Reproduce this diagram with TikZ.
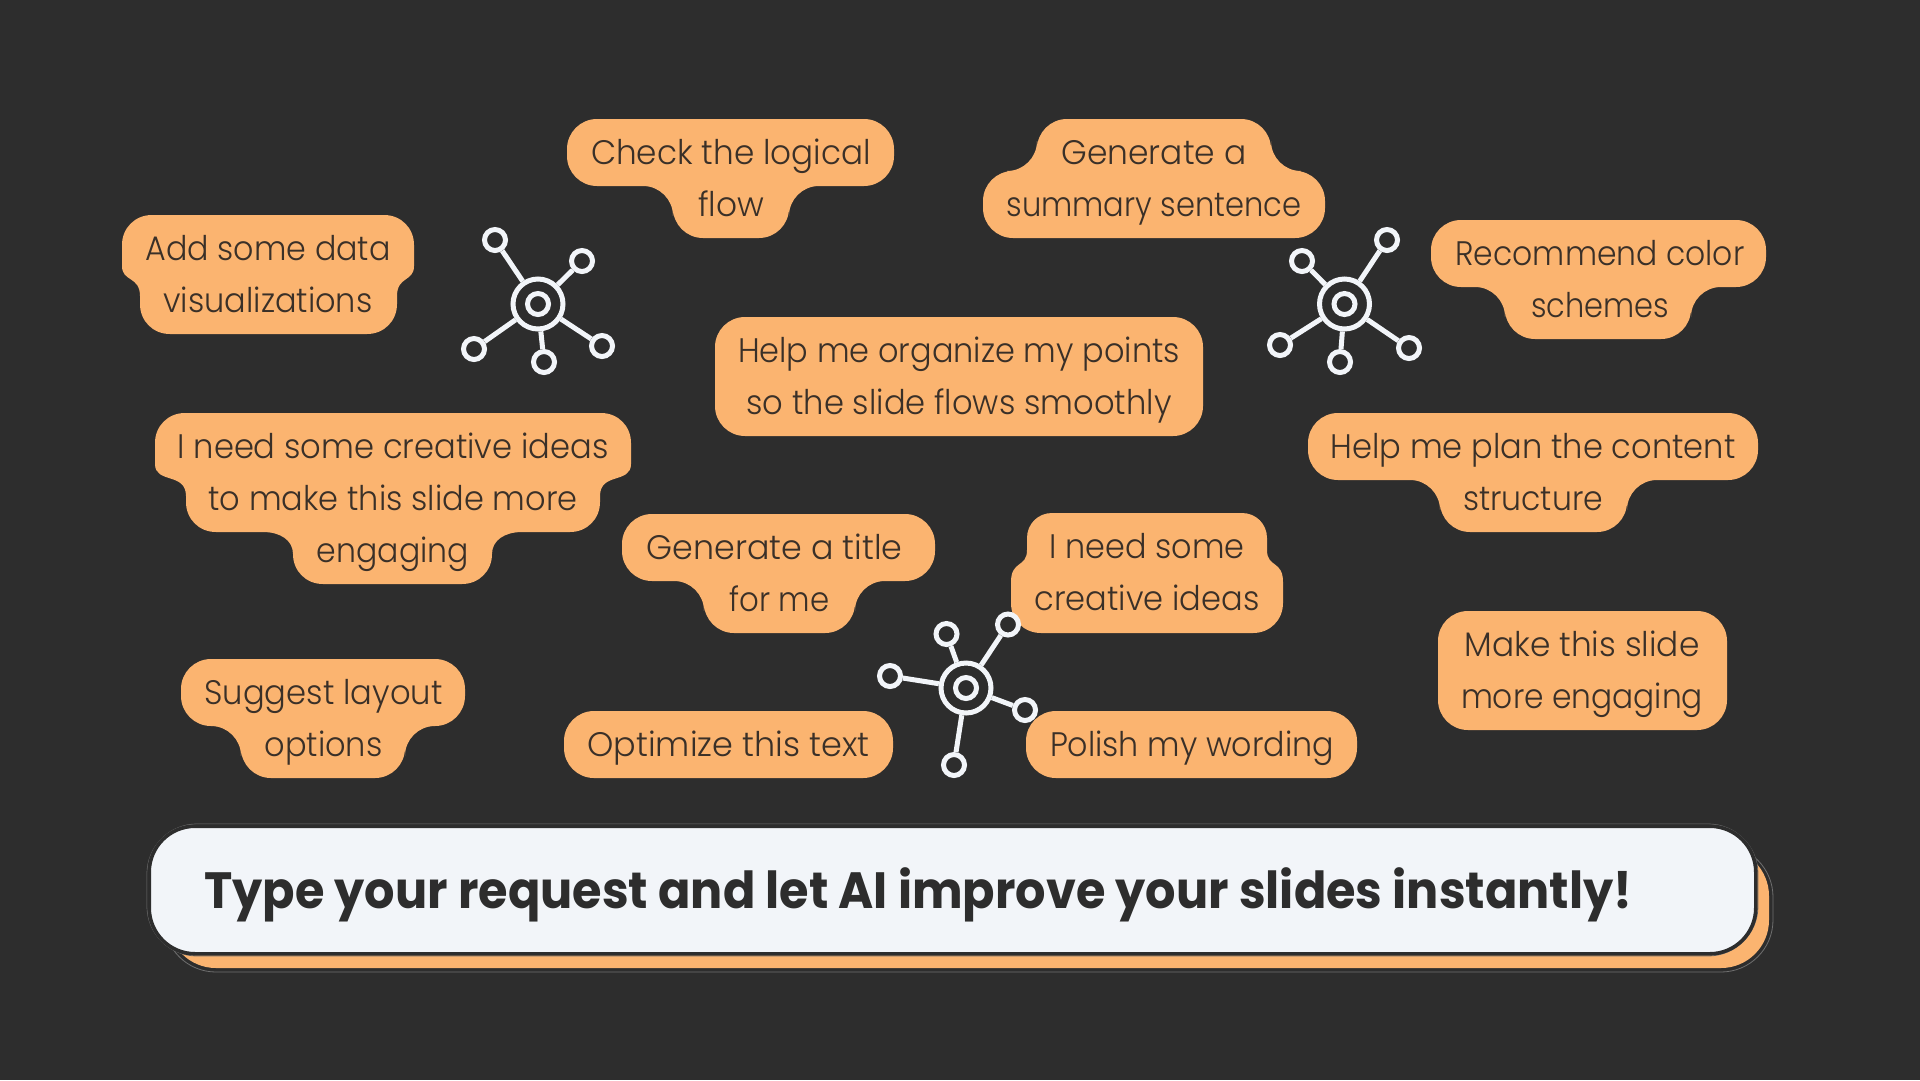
\documentclass[tikz,border=0pt]{standalone}
\usepackage{fontspec}
\usepackage{graphicx}
\setmainfont{Poppins}[UprightFont=* Light,BoldFont=* Bold]
\definecolor{bgc}{HTML}{2D2D2D}
\definecolor{org}{HTML}{FBB470}
\definecolor{ink}{HTML}{3A3028}
\definecolor{paper}{HTML}{F2F5F9}
\definecolor{iconc}{HTML}{F2F5F9}
\tikzset{
 blob/.style={fill=org,rounded corners=30pt},
 lbl/.style={text=ink,align=center,inner sep=0pt,font=\fontsize{34}{52}\selectfont},
 hubcore/.style={circle,draw=iconc,line width=5pt,fill=bgc,minimum size=50pt,inner sep=0pt},
 hubdot/.style={circle,draw=iconc,line width=5pt,fill=none,minimum size=21pt,inner sep=0pt},
 sat/.style={circle,draw=iconc,line width=5pt,fill=bgc,minimum size=21pt,inner sep=0pt},
 spoke/.style={draw=iconc,line width=5pt},
}
\newcommand{\hubicon}[7]{% name, centre, five satellites
 \node[hubcore] (#1c) at #2 {};
 \node[hubdot] (#1d) at #2 {};
 \node[sat] (#1a) at #3 {};
 \node[sat] (#1b) at #4 {};
 \node[sat] (#1e) at #5 {};
 \node[sat] (#1f) at #6 {};
 \node[sat] (#1g) at #7 {};
 \foreach \s in {a,b,e,f,g} \draw[spoke] (#1c) -- (#1\s);
}
\newcommand{\ltxt}[4]{\node[lbl] (#1) at (#2,#3-0.3) {#4};}
\newcommand{\fw}[2]{\strut\resizebox{#1pt}{\height}{#2}}
\begin{document}
\begin{tikzpicture}[x=1pt,y=-1pt]
\useasboundingbox (0,0) rectangle (1920,1080);
\fill[bgc] (0,0) rectangle (1920,1080);
% blobs
\fill[org] (152,215) -- (384,215) .. controls (401,215) and (414,228) .. (414,245) -- (414,266) .. controls (414,282) and (397,276) .. (397,296) -- (397,304) .. controls (397,321) and (384,334) .. (367,334) -- (170,334) .. controls (153,334) and (140,321) .. (140,304) -- (140,296) .. controls (140,276) and (122,282) .. (122,266) -- (122,245) .. controls (122,228) and (135,215) .. (152,215) -- cycle;
\fill[blob] (567,119) -- (894,119) -- (894,186) -- (789,186) -- (789,238) -- (673,238) -- (673,186) -- (567,186) -- cycle;
\fill[blob] (1037,119) -- (1271,119) -- (1271,171) -- (1325,171) -- (1325,238) -- (983,238) -- (983,171) -- (1037,171) -- cycle;
\fill[blob] (1431,220) -- (1766,220) -- (1766,287) -- (1691,287) -- (1691,339) -- (1505,339) -- (1505,287) -- (1431,287) -- cycle;
\fill[blob] (715,317) rectangle (1203,436);
\fill[org] (185,413) -- (601,413) .. controls (618,413) and (631,426) .. (631,443) -- (631,464) .. controls (631,484) and (600,472) .. (600,496) -- (600,502) .. controls (600,519) and (587,532) .. (570,532) -- (522,532) .. controls (505,532) and (492,540) .. (492,554) .. controls (492,571) and (479,584) .. (462,584) -- (323,584) .. controls (306,584) and (293,571) .. (293,554) .. controls (293,540) and (280,532) .. (263,532) -- (216,532) .. controls (199,532) and (186,519) .. (186,502) -- (186,496) .. controls (186,472) and (155,484) .. (155,464) -- (155,443) .. controls (155,426) and (168,413) .. (185,413) -- cycle;
\fill[blob] (1308,413) -- (1758,413) -- (1758,480) -- (1627,480) -- (1627,532) -- (1440,532) -- (1440,480) -- (1308,480) -- cycle;
\fill[blob] (622,514) -- (935,514) -- (935,581) -- (855,581) -- (855,633) -- (704,633) -- (704,581) -- (622,581) -- cycle;
\fill[org] (1052,513) -- (1242,513) .. controls (1256,513) and (1267,524) .. (1267,538) -- (1267,550) .. controls (1267,568) and (1283,560) .. (1283,582) -- (1283,603) .. controls (1283,620) and (1270,633) .. (1253,633) -- (1041,633) .. controls (1024,633) and (1011,620) .. (1011,603) -- (1011,582) .. controls (1011,560) and (1027,568) .. (1027,550) -- (1027,538) .. controls (1027,524) and (1038,513) .. (1052,513) -- cycle;
\fill[blob] (1438,611) rectangle (1727,730);
\fill[blob] (181,659) -- (465,659) -- (465,726) -- (405,726) -- (405,778) -- (241,778) -- (241,726) -- (181,726) -- cycle;
\fill[blob] (564,711) rectangle (893,778);
\fill[blob] (1026,711) rectangle (1357,778);
% bar
\draw[draw=gray!80!bgc,line width=.8pt,rounded corners=52pt] (164,845) rectangle (1773,972);
\fill[org,rounded corners=48pt] (168,848) rectangle (1769,968);
\draw[draw=gray!80!bgc,line width=.8pt,rounded corners=50pt] (147,824) rectangle (1758,956);
\draw[draw=bgc,line width=3.6pt,fill=paper,rounded corners=46pt] (149.2,826.2) rectangle (1755.8,953.8);
\node[anchor=base west,inner sep=0pt,text=bgc,font=\fontsize{51}{60}\selectfont\bfseries] (bar) at (204,908) {\resizebox{1428pt}{\height}{Type your request and let AI improve your slides instantly!}};
% labels
\ltxt{a}{268}{276.6}{\fw{245}{Add some data}\\\fw{209}{visualizations}}
\ltxt{b}{731}{180.6}{\fw{280}{Check the logical}\\\fw{66}{flow}}
\ltxt{c}{1154}{180.6}{\fw{185}{Generate a}\\\fw{295}{summary sentence}}
\ltxt{d}{1600}{281.6}{\fw{289}{Recommend color}\\\fw{138}{schemes}}
\ltxt{e}{959}{378.6}{\fw{442}{Help me organize my points}\\\fw{425}{so the slide flows smoothly}}
\ltxt{f}{393}{500.6}{\fw{431}{I need some creative ideas}\\\fw{369}{to make this slide more}\\\fw{152}{engaging}}
\ltxt{g}{1533}{474.6}{\fw{405}{Help me plan the content}\\\fw{140}{structure}}
\ltxt{h}{779.5}{575.6}{\fw{256}{Generate a title}\hspace*{10pt}\\\fw{100}{for me}}
\ltxt{i}{1147}{574.6}{\fw{195}{I need some}\\\fw{225}{creative ideas}}
\ltxt{j}{1582}{672.6}{\fw{235}{Make this slide}\\\fw{242}{more engaging}}
\ltxt{k}{323.5}{720.6}{\fw{238}{Suggest layout}\\\fw{118}{options}}
\ltxt{l}{728.5}{746.6}{\fw{282}{Optimize this text}}
\ltxt{m}{1192}{746.6}{\fw{284}{Polish my wording}}
% icons
\hubicon{p}{(538,304)}{(495,240)}{(582,261)}{(474,349)}{(544,362)}{(602,346)}
\hubicon{q}{(1344.5,304)}{(1302,261)}{(1387,240)}{(1280,345)}{(1340,362)}{(1409,348)}
\hubicon{r}{(966,688)}{(946.5,634)}{(1008,624.5)}{(890,676)}{(1025,710)}{(954,765)}
\end{tikzpicture}
\end{document}
